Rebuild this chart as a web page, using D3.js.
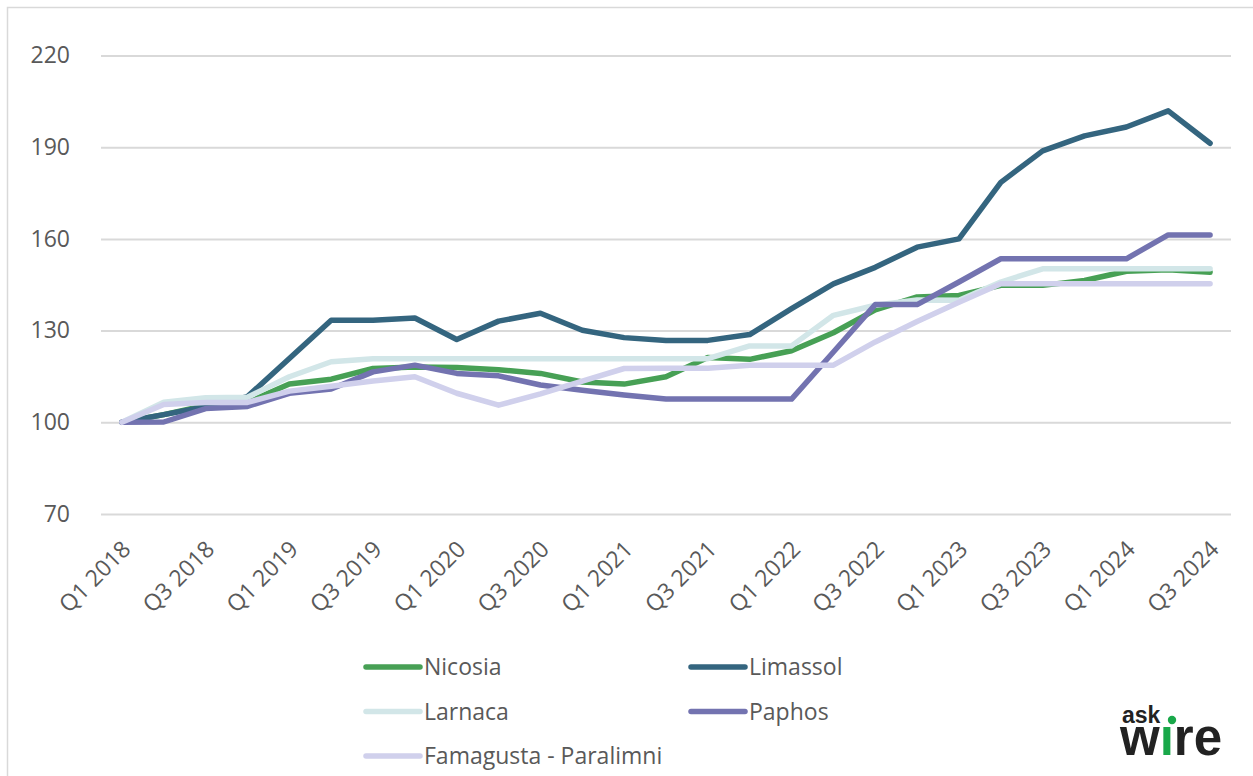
<!DOCTYPE html>
<html>
<head>
<meta charset="utf-8">
<script src="https://cdn.jsdelivr.net/npm/d3@7"></script>
<style>
  body { margin: 0; background: #fff; }
  svg { display: block; font-family: "Open Sans", sans-serif; }
</style>
</head>
<body>
<div id="chart"></div>
<script>
// quarters on the x axis
const quarters = [
  "Q1 2018","Q2 2018","Q3 2018","Q4 2018",
  "Q1 2019","Q2 2019","Q3 2019","Q4 2019",
  "Q1 2020","Q2 2020","Q3 2020","Q4 2020",
  "Q1 2021","Q2 2021","Q3 2021","Q4 2021",
  "Q1 2022","Q2 2022","Q3 2022","Q4 2022",
  "Q1 2023","Q2 2023","Q3 2023","Q4 2023",
  "Q1 2024","Q2 2024","Q3 2024"]

const yTicks = [70, 100, 130, 160, 190, 220]

const nicosia = [100, 102.5, 105.5, 106.5, 112.5, 114.1, 117.6, 118.1, 117.9, 117.2, 116, 113.2, 112.5, 114.9,
  121.2, 120.6, 123.4, 129.3, 136.8, 141, 141.5, 144.8, 144.8, 146.4, 149.4, 149.9, 149.1]
const limassol = [100, 102.5, 105.1, 108.4, 120.9, 133.4, 133.4, 134.1, 127.1, 133.1, 135.7, 130.1, 127.7, 126.8,
  126.8, 128.7, 137.2, 145.3, 150.7, 157.3, 160, 178.5, 188.8, 193.7, 196.6, 201.9, 191.3]
const larnaca = [100, 106.6, 108, 108.2, 114.9, 119.8, 120.8, 120.8, 120.8, 120.8, 120.8, 120.8, 120.8, 120.8,
  120.8, 125, 125, 135, 138.3, 140, 139.9, 145.9, 150.2, 150.2, 150.2, 150.2, 150.2]
const paphos = [100, 100.1, 104.5, 105.2, 109.5, 110.9, 116.5, 118.7, 116, 115.2, 112.2, 110.5, 108.9, 107.6,
  107.6, 107.6, 107.6, 123, 138.5, 138.5, 145.9, 153.5, 153.5, 153.5, 153.5, 161.3, 161.3]
const famagusta = [100, 105.8, 106.5, 106.5, 110.2, 111.8, 113.5, 114.9, 109.5, 105.6, 109.3, 113.5, 117.6, 117.7,
  117.7, 118.7, 118.7, 118.7, 126.3, 133, 139.3, 145.3, 145.3, 145.3, 145.3, 145.3, 145.3]

const seriesNames = ["Nicosia", "Limassol", "Larnaca", "Paphos", "Famagusta - Paralimni"]
const seriesValues = [nicosia, limassol, larnaca, paphos, famagusta]
const seriesColors = ["#47a055", "#34657f", "#d2e6e8", "#7373b0", "#d0d0ec"]

const W = 1253, H = 776
const plot = {left: 101, right: 1231, top: 55.5, bottom: 514}

const svg = d3.select("#chart").append("svg")
  .attr("width", W)
  .attr("height", H)

// outer chart border (only top and left visible in the crop)
svg.append("path")
  .attr("d", `M7.5,${H} V7.5 H${W}`)
  .attr("fill", "none")
  .attr("stroke", "#d9d9d9")
  .attr("stroke-width", 1.5)

const x = d3.scalePoint()
  .domain(quarters)
  .range([plot.left, plot.right])
  .padding(0.5)

const y = d3.scaleLinear()
  .domain([70, 220])
  .range([plot.bottom, plot.top])

// y axis + gridlines
const yAxis = svg.append("g")
  .attr("transform", `translate(${plot.left},0)`)
  .call(d3.axisLeft(y).tickValues(yTicks).tickSize(-(plot.right - plot.left)).tickPadding(31))
yAxis.select(".domain").remove()
yAxis.selectAll(".tick line").attr("stroke", "#d9d9d9").attr("stroke-width", 2)
yAxis.selectAll(".tick text")
  .attr("fill", "#595959")
  .style("font-size", "23px")
  .style("font-family", "Open Sans")

// x axis, every second quarter labelled
const xAxis = svg.append("g")
  .attr("transform", `translate(0,${plot.bottom})`)
  .call(d3.axisBottom(x).tickValues(quarters.filter((d, i) => i % 2 === 0)).tickSize(0))
xAxis.select(".domain").remove()
xAxis.selectAll(".tick text")
  .attr("fill", "#595959")
  .style("font-size", "23px")
  .style("font-family", "Open Sans")
  .attr("text-anchor", "end")
  .attr("dy", "0.35em")
  .attr("y", 0)
  .attr("transform", "translate(4,31) rotate(-45)")

// lines
const line = d3.line()
  .x((d, i) => x(quarters[i]))
  .y(d => y(d))

svg.append("g")
  .selectAll("path")
  .data(seriesValues)
  .join("path")
    .attr("d", d => line(d))
    .attr("fill", "none")
    .attr("stroke", (d, i) => seriesColors[i])
    .attr("stroke-width", 5.5)
    .attr("stroke-linejoin", "round")
    .attr("stroke-linecap", "round")

// legend, two columns
const legend = svg.append("g")
  .selectAll("g")
  .data(seriesNames)
  .join("g")
    .attr("transform", (d, i) => `translate(${i % 2 === 0 ? 366 : 691},${667 + Math.floor(i / 2) * 44.5})`)

legend.append("line")
  .attr("x1", 0).attr("x2", 54)
  .attr("stroke", (d, i) => seriesColors[i])
  .attr("stroke-width", 5.5)
  .attr("stroke-linecap", "round")

legend.append("text")
  .attr("x", 58)
  .attr("dy", "0.35em")
  .attr("fill", "#595959")
  .style("font-size", "23px")
  .text(d => d)

// askwire logo, one text element with two lines
const logo = svg.append("text")
  .attr("font-family", "Liberation Sans, Arial, sans-serif")
  .attr("font-weight", "bold")
  .attr("fill", "#222")
logo.append("tspan")
  .attr("x", 1122).attr("y", 723)
  .style("font-size", "23px")
  .text("ask")
logo.append("tspan")
  .attr("x", 1120).attr("y", 755)
  .style("font-size", "51px")
  .text("w")
logo.append("tspan")
  .style("font-size", "51px")
  .attr("fill", "#19a84a")
  .text("\u0131")
logo.append("tspan")
  .style("font-size", "51px")
  .text("re")
svg.append("circle")
  .attr("cx", 1172).attr("cy", 720).attr("r", 4.2)
  .attr("fill", "#19a84a")
</script>
</body>
</html>
